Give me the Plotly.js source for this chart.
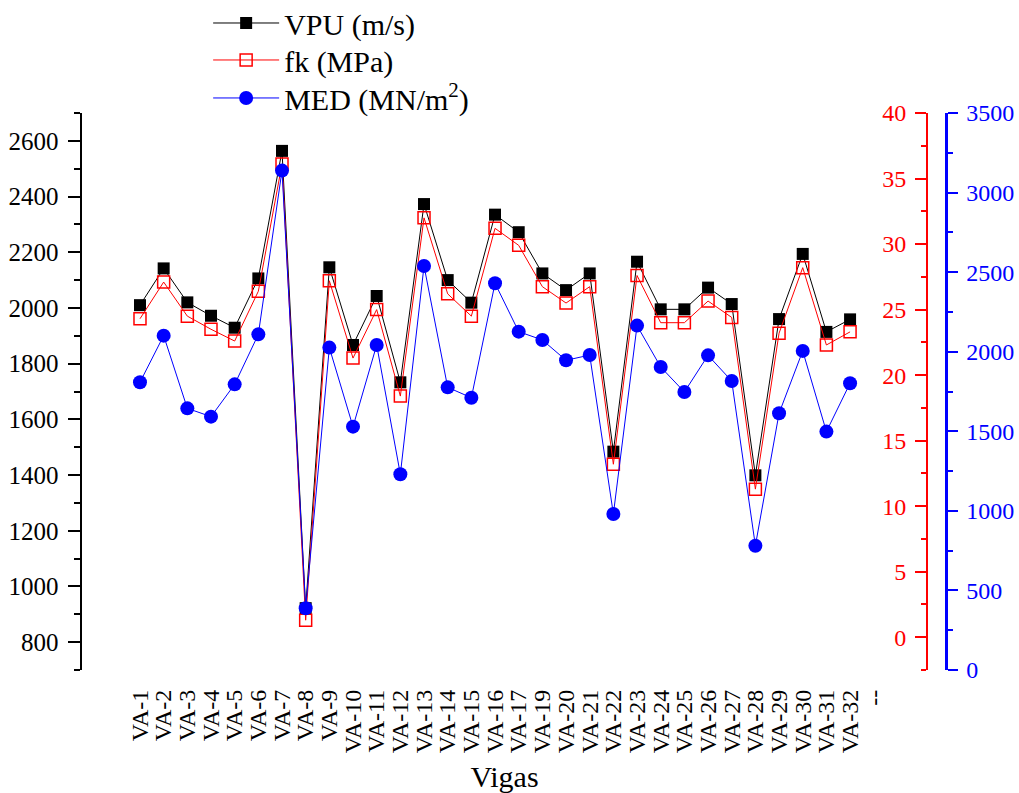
<!DOCTYPE html>
<html>
<head>
<meta charset="utf-8">
<script src="https://cdn.plot.ly/plotly-3.0.1.min.js"></script>
<style>
  html, body { margin: 0; padding: 0; background: #fff; }
  #chart { width: 1019px; height: 793px; }
</style>
</head>
<body>
<div id="chart"></div>
<script>
// Categories (beams) - last entry is the trailing "--" label with no data
const categories = ["VA-1","VA-2","VA-3","VA-4","VA-5","VA-6","VA-7","VA-8","VA-9","VA-10",
  "VA-11","VA-12","VA-13","VA-14","VA-15","VA-16","VA-17","VA-19","VA-20","VA-21",
  "VA-22","VA-23","VA-24","VA-25","VA-26","VA-27","VA-28","VA-29","VA-30","VA-31","VA-32","--"];

// VPU (m/s) - left axis
const vpu = [2010, 2142, 2020, 1972, 1929, 2106, 2564, 922, 2146, 1867,
  2043, 1733, 2373, 2100, 2019, 2335, 2272, 2124, 2064, 2124,
  1484, 2166, 1995, 1995, 2073, 2014, 1399, 1960, 2194, 1914, 1959, null];

// fk (MPa) - red right axis
const fk = [24.3, 27.1, 24.5, 23.5, 22.6, 26.4, 36.1, 1.3, 27.2, 21.3,
  25.0, 18.4, 32.0, 26.2, 24.5, 31.2, 29.9, 26.75, 25.5, 26.75,
  13.2, 27.6, 24.0, 24.0, 25.65, 24.4, 11.3, 23.2, 28.2, 22.3, 23.3, null];

// MED (MN/m2) - blue right axis
const med = [1808, 2101, 1644, 1592, 1795, 2109, 3138, 388, 2026, 1529,
  2042, 1230, 2539, 1776, 1711, 2430, 2126, 2074, 1946, 1979,
  980, 2164, 1904, 1747, 1977, 1816, 781, 1613, 2005, 1498, 1802, null];

const seriesNames = ["VPU (m/s)", "fk (MPa)", "MED (MN/m<sup>2</sup>)"];

const FONT = "Liberation Serif, Times New Roman, serif";
const XEND = 0.978;

const traces = [
  {
    x: categories, y: vpu, name: seriesNames[0], type: "scatter", mode: "lines+markers",
    yaxis: "y", legend: "legend",
    line: { color: "#000000", width: 1 },
    marker: { symbol: "square", size: 12, color: "#000000" },
    hoverinfo: "skip"
  },
  {
    x: categories, y: fk, name: seriesNames[1], type: "scatter", mode: "lines+markers",
    yaxis: "y2", legend: "legend2",
    line: { color: "#ff0000", width: 1 },
    marker: { symbol: "square-open", size: 12, color: "#ff0000", line: { width: 1.5, color: "#ff0000" } },
    hoverinfo: "skip"
  },
  {
    x: categories, y: med, name: seriesNames[2], type: "scatter", mode: "lines+markers",
    yaxis: "y3", legend: "legend3",
    line: { color: "#0000ff", width: 1 },
    marker: { symbol: "circle", size: 14, color: "#0000ff" },
    hoverinfo: "skip"
  }
];

const legendCommon = {
  xanchor: "left", yanchor: "middle", x: 0.146,
  bgcolor: "rgba(0,0,0,0)", borderwidth: 0,
  font: { family: FONT, size: 30, color: "#000" },
  itemwidth: 66
};

const layout = {
  width: 1019, height: 793,
  margin: { l: 82, r: 73, t: 113, b: 123, pad: 0, autoexpand: false },
  paper_bgcolor: "#ffffff", plot_bgcolor: "#ffffff",
  font: { family: FONT, size: 24, color: "#000" },
  showlegend: true,
  legend: Object.assign({}, legendCommon, { y: 1.1616 }),
  legend2: Object.assign({}, legendCommon, { y: 1.0952 }),
  legend3: Object.assign({}, legendCommon, { y: 1.027 }),
  xaxis: {
    type: "category", categoryorder: "array", categoryarray: categories,
    domain: [0, XEND],
    range: [-2.45, 33.25],
    tickmode: "array", tickvals: categories, ticktext: categories,
    showline: false, showgrid: false, zeroline: false,
    ticks: "", tickangle: -90,
    tickfont: { family: FONT, size: 24, color: "#000" },
    ticklabelstandoff: 14,
    title: { text: "Vigas", font: { family: FONT, size: 30, color: "#000" }, standoff: 14 }
  },
  yaxis: {
    range: [700, 2700], tick0: 800, dtick: 200,
    showline: true, linecolor: "#000", linewidth: 2.5,
    ticks: "outside", ticklen: 12, tickwidth: 2, tickcolor: "#000",
    minor: { tick0: 700, dtick: 100, ticks: "outside", ticklen: 6, tickwidth: 2, tickcolor: "#000" },
    showgrid: false, zeroline: false,
    tickfont: { family: FONT, size: 25, color: "#000" },
    ticklabelstandoff: 4
  },
  // red axis: labels and left half of the crossing ticks
  yaxis2: {
    overlaying: "y", side: "left", anchor: "free", position: XEND,
    range: [-2.5, 40], tick0: 0, dtick: 5,
    showline: true, linecolor: "#ff0000", linewidth: 2.5,
    ticks: "outside", ticklen: 11, tickwidth: 2, tickcolor: "#ff0000",
    minor: { tick0: -2.5, dtick: 2.5, ticks: "outside", ticklen: 5, tickwidth: 2, tickcolor: "#ff0000" },
    ticklabelstandoff: 4,
    showgrid: false, zeroline: false,
    tickfont: { family: FONT, size: 24, color: "#ff0000" }
  },
  // red axis: right half of the crossing ticks
  yaxis4: {
    overlaying: "y", side: "right", anchor: "x",
    range: [-2.5, 40], tick0: 0, dtick: 5,
    showline: true, linecolor: "#ff0000", linewidth: 2.5, showticklabels: false,
    ticks: "outside", ticklen: 11, tickwidth: 2, tickcolor: "#ff0000",
    minor: { tick0: -2.5, dtick: 2.5, ticks: "outside", ticklen: 5, tickwidth: 2, tickcolor: "#ff0000" },
    showgrid: false, zeroline: false
  },
  yaxis3: {
    overlaying: "y", side: "right", anchor: "free", position: 1,
    range: [0, 3500], tick0: 0, dtick: 500,
    showline: true, linecolor: "#0000ff", linewidth: 2.5,
    ticks: "outside", ticklen: 10, tickwidth: 2, tickcolor: "#0000ff",
    minor: { tick0: 0, dtick: 250, ticks: "outside", ticklen: 5, tickwidth: 2, tickcolor: "#0000ff" },
    showgrid: false, zeroline: false,
    tickfont: { family: FONT, size: 24, color: "#0000ff" },
    ticklabelstandoff: 4
  }
};

Plotly.newPlot("chart", traces, layout, { displayModeBar: false, staticPlot: true });
</script>
</body>
</html>
